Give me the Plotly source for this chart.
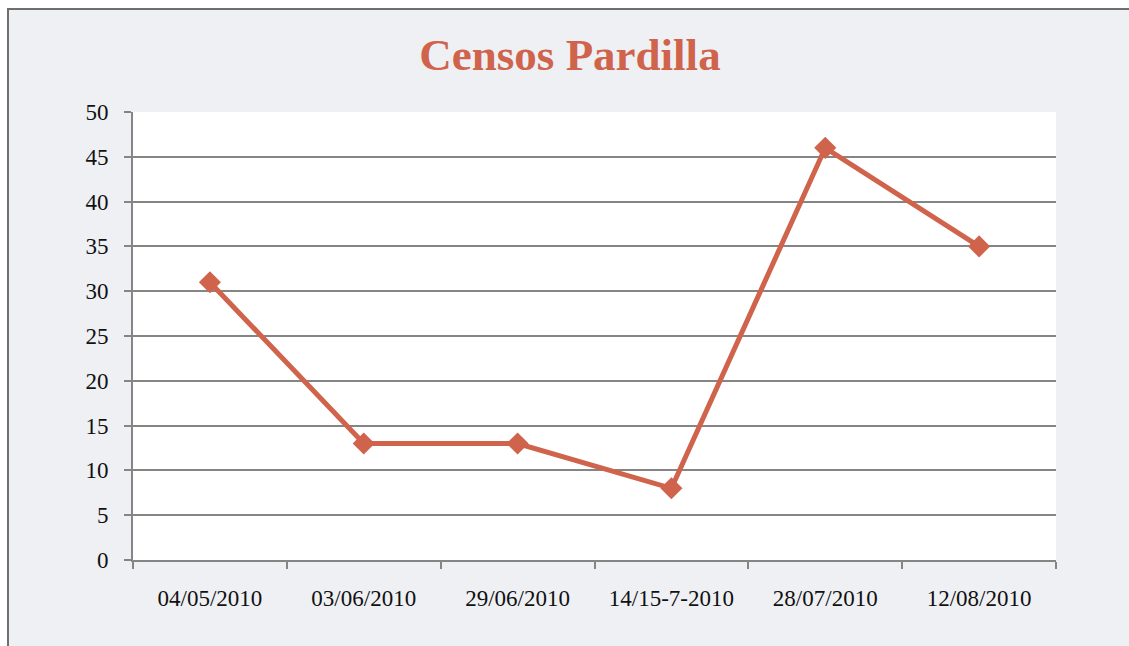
import plotly.graph_objects as go

categories = ["04/05/2010", "03/06/2010", "29/06/2010", "14/15-7-2010", "28/07/2010", "12/08/2010"]
values = [31, 13, 13, 8, 46, 35]
y_ticks = [0, 5, 10, 15, 20, 25, 30, 35, 40, 45, 50]

W, H = 1129, 646
L, T = 133, 112
R, B = W - 1056, H - 560
pw, ph = W - L - R, H - T - B

line_color = "#D0634B"
grid_color = "#858585"
font_family = "Liberation Serif, Times New Roman, serif"

fig = go.Figure()
fig.add_trace(go.Scatter(
    x=categories, y=values, mode="lines+markers",
    line=dict(color=line_color, width=5),
    marker=dict(symbol="diamond", size=17, color=line_color),
    showlegend=False,
))

def px_x(p):
    return (p - L) / pw

def px_y(p):
    return 1 - (p - T) / ph

# white outer frame (page area outside the chart box) and dark border on left/top
fig.add_shape(type="rect", xref="paper", yref="paper",
              x0=px_x(-5), x1=px_x(7), y0=px_y(700), y1=px_y(-5),
              line=dict(width=0), fillcolor="#ffffff", layer="below")
fig.add_shape(type="rect", xref="paper", yref="paper",
              x0=px_x(-5), x1=px_x(1200), y0=px_y(8), y1=px_y(-5),
              line=dict(width=0), fillcolor="#ffffff", layer="below")
border = dict(color="#6e6e6e", width=2)
fig.add_shape(type="line", xref="paper", yref="paper",
              x0=px_x(8), x1=px_x(8), y0=px_y(700), y1=px_y(8), line=border, layer="below")
fig.add_shape(type="line", xref="paper", yref="paper",
              x0=px_x(8), x1=px_x(1200), y0=px_y(9), y1=px_y(9), line=border, layer="below")

fig.update_layout(
    width=W, height=H,
    margin=dict(l=L, r=R, t=T, b=B),
    paper_bgcolor="#eff0f4",
    plot_bgcolor="#ffffff",
    font=dict(family=font_family, size=23, color="#111111"),
    title=dict(text="<b>Censos Pardilla</b>", x=570 / W, xanchor="center",
               y=1 - 54 / H, yanchor="middle",
               font=dict(family=font_family, size=45, color=line_color)),
    xaxis=dict(type="category", showgrid=False, showline=True, linecolor=grid_color, linewidth=2,
               ticks="outside", tickson="boundaries", ticklen=7, tickwidth=2, tickcolor=grid_color,
               ticklabelstandoff=16, zeroline=False, range=[-0.5, 5.5]),
    yaxis=dict(range=[0, 50], tickvals=y_ticks, showgrid=True, gridcolor=grid_color, gridwidth=1.5,
               showline=True, linecolor=grid_color, linewidth=2, ticks="outside", ticklen=7,
               tickwidth=1.5, tickcolor=grid_color, ticklabelstandoff=11, zeroline=False),
)

fig.write_html("out.html",
               config={"displayModeBar": False},
               post_script="document.body.style.margin='0';document.body.style.overflow='hidden';")
